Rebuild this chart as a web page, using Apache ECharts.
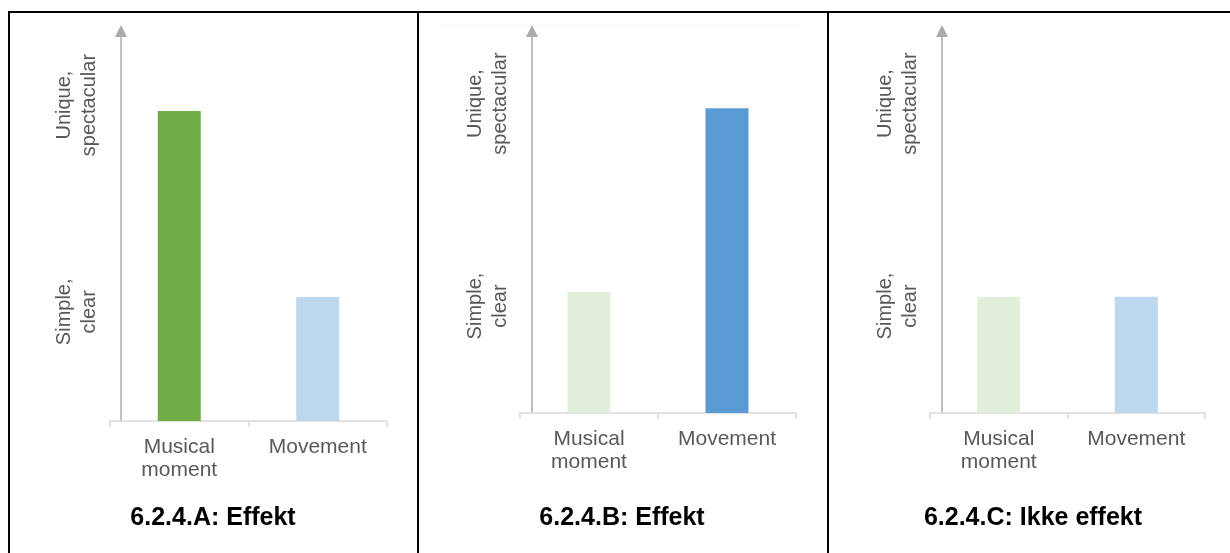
<!DOCTYPE html>
<html><head><meta charset="utf-8">
<script src="https://cdn.jsdelivr.net/npm/echarts@6/dist/echarts.min.js"></script>
<style>html,body{margin:0;padding:0;background:#fff}#chart{width:1230px;height:553px}</style>
</head><body><div id="chart"></div>
<script>
// ---- data ----
const categories = ['Musical\nmoment', 'Movement'];
const levelLabels = ['Simple,\nclear', 'Unique,\nspectacular'];
const levelValues = [28, 81];
const panelTitles = ['6.2.4.A: Effekt', '6.2.4.B: Effekt', '6.2.4.C: Ikke effekt'];
const musicalMoment = [79.5, 31.7, 30.4];
const movement = [31.8, 79.8, 30.4];

// ---- layout / style ----
const FONT = "'Liberation Sans', Arial, sans-serif";
const panels = [
  {grid: {left: 110, width: 277, top: 31, bottom: 132}, yOffset: -11, colors: ['#70AD47', '#BDD7EE'], titleX: 213},
  {grid: {left: 520, width: 276, top: 31, bottom: 140}, yOffset: -12, colors: ['#E2EFDA', '#5B9BD5'], titleX: 622},
  {grid: {left: 930, width: 275, top: 31, bottom: 140}, yOffset: -12, colors: ['#E2EFDA', '#BDD7EE'], titleX: 1033}
];

const chart = echarts.init(document.getElementById('chart'), null, {renderer: 'canvas'});

const grids = [], xAxes = [], yAxes = [], series = [], graphics = [];
panels.forEach((p, i) => {
  grids.push(Object.assign({containLabel: false}, p.grid));
  xAxes.push({
    type: 'category', gridIndex: i, data: categories,
    axisLine: {show: true, lineStyle: {color: '#D9D9D9', width: 1.5}},
    axisTick: {show: true, length: 6, lineStyle: {color: '#D9D9D9', width: 1.5}},
    axisLabel: {interval: 0, color: '#595959', fontSize: 21, lineHeight: 23, margin: 15, fontFamily: FONT},
    splitLine: {show: false}
  });
  yAxes.push({
    type: 'value', gridIndex: i, min: 0, max: 100, offset: p.yOffset,
    axisLine: {show: true, lineStyle: {color: '#ABABAB', width: 1.5}, symbol: ['none', 'triangle'], symbolSize: [12, 12]},
    axisTick: {show: false}, splitLine: {show: false},
    axisLabel: {
      customValues: levelValues, rotate: 90, margin: 19, color: '#595959', fontSize: 20, lineHeight: 25, fontFamily: FONT,
      formatter: v => { const k = levelValues.indexOf(v); return k < 0 ? '' : levelLabels[k]; }
    }
  });
  series.push({
    type: 'bar', xAxisIndex: i, yAxisIndex: i, barWidth: 43,
    data: [
      {value: musicalMoment[i], itemStyle: {color: p.colors[0]}},
      {value: movement[i], itemStyle: {color: p.colors[1]}}
    ]
  });
  graphics.push({
    type: 'text', x: p.titleX, y: 518,
    style: {text: panelTitles[i], fontFamily: FONT, fontWeight: 'bold', fontSize: 25, fill: '#000', align: 'center', verticalAlign: 'middle'}
  });
});

const border = {stroke: '#000', lineWidth: 2};
graphics.push(
  {type: 'line', shape: {x1: 8, y1: 12, x2: 1230, y2: 12}, style: border},
  {type: 'line', shape: {x1: 9, y1: 11, x2: 9, y2: 553}, style: border},
  {type: 'line', shape: {x1: 418, y1: 11, x2: 418, y2: 553}, style: border},
  {type: 'line', shape: {x1: 828, y1: 11, x2: 828, y2: 553}, style: border},
  {type: 'line', shape: {x1: 442, y1: 25, x2: 802, y2: 25}, style: {stroke: '#F2F2F2', lineWidth: 1}}
);

chart.setOption({
  animation: false,
  backgroundColor: '#fff',
  grid: grids, xAxis: xAxes, yAxis: yAxes, series: series,
  graphic: graphics
});
</script>
</body></html>
